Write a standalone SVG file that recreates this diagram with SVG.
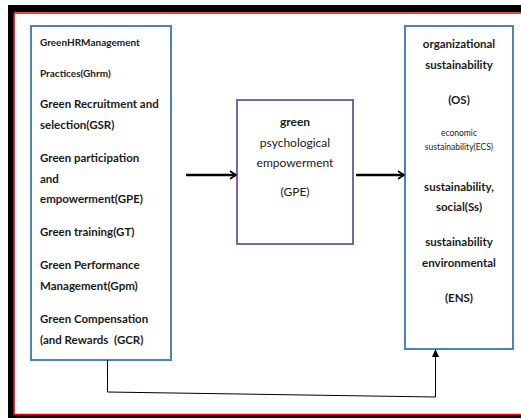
<svg xmlns="http://www.w3.org/2000/svg" width="521" height="418" viewBox="0 0 521 418">
<style>
.t{font-family:Lato,"Liberation Sans",sans-serif;fill:#1a1a1a}
.b{font-weight:bold}
.l{font-size:11.5px}
.s{font-size:10px}
.e{font-size:8.5px}
.m{font-size:12px}
.c{text-anchor:middle}
.box{fill:#fff;stroke-width:2}
.con{fill:none;stroke:#000}
</style>
<defs>
<marker id="chev" markerWidth="10" markerHeight="10" refX="8" refY="5" orient="auto" markerUnits="userSpaceOnUse">
<path d="M2,1 L8,5 L2,9" fill="none" stroke="#000" stroke-width="1.6"/>
</marker>
</defs>
<rect x="0" y="0" width="521" height="418" fill="#fff"/>
<g id="frame">
<path d="M8,5 H521 V12 H14 V415 H521 V418 H8 Z" fill="#000"/>
<path d="M14,13 H521 M14,13 V414.5 H521" fill="none" stroke="#e00" stroke-width="1.5"/>
</g>
<g id="ghrm">
<rect class="box" x="31" y="26" width="140" height="334" stroke="#4f81bd"/>
<text class="t b s" x="40" y="46">GreenHRManagement</text>
<text class="t b s" x="40" y="77">Practices(Ghrm)</text>
<text class="t b l" x="40" y="108">Green Recruitment and</text>
<text class="t b l" x="40" y="129">selection(GSR)</text>
<text class="t b l" x="40" y="162">Green participation</text>
<text class="t b l" x="40" y="183">and</text>
<text class="t b l" x="40" y="203">empowerment(GPE)</text>
<text class="t b l" x="40" y="236">Green training(GT)</text>
<text class="t b l" x="40" y="269">Green Performance</text>
<text class="t b l" x="40" y="290">Management(Gpm)</text>
<text class="t b l" x="40" y="323">Green Compensation</text>
<text class="t b l" x="40" y="344">(and Rewards &#160;(GCR)</text>
</g>
<g id="gpe">
<rect class="box" x="237" y="100" width="116" height="144" stroke="#8064a2"/>
<text class="t b m c" x="295" y="126">green</text>
<text class="t m c" x="295" y="147">psychological</text>
<text class="t m c" x="295" y="167">empowerment</text>
<text class="t m c" x="295" y="196">(GPE)</text>
</g>
<g id="os">
<rect class="box" x="405" y="26" width="108" height="323" stroke="#4f81bd"/>
<text class="t b l c" x="459" y="48">organizational</text>
<text class="t b l c" x="459" y="69">sustainability</text>
<text class="t b l c" x="459" y="104">(OS)</text>
<text class="t e c" x="459" y="136">economic</text>
<text class="t e c" x="459" y="150">sustainability(ECS)</text>
<text class="t b l c" x="459" y="191">sustainability,</text>
<text class="t b l c" x="459" y="211">social(Ss)</text>
<text class="t b l c" x="459" y="246">sustainability</text>
<text class="t b l c" x="459" y="267">environmental</text>
<text class="t b l c" x="459" y="302">(ENS)</text>
</g>
<g id="connectors">
<line class="con" x1="186" y1="175" x2="236" y2="175" stroke-width="2.5" marker-end="url(#chev)"/>
<line class="con" x1="356" y1="175" x2="404" y2="175" stroke-width="2.5" marker-end="url(#chev)"/>
<polyline class="con" points="107.5,360 107.5,392 435.5,397 435.5,356" stroke-width="1"/>
<path d="M435.5,349 L432,357 L439,357 Z" fill="#000"/>
</g>
</svg>
